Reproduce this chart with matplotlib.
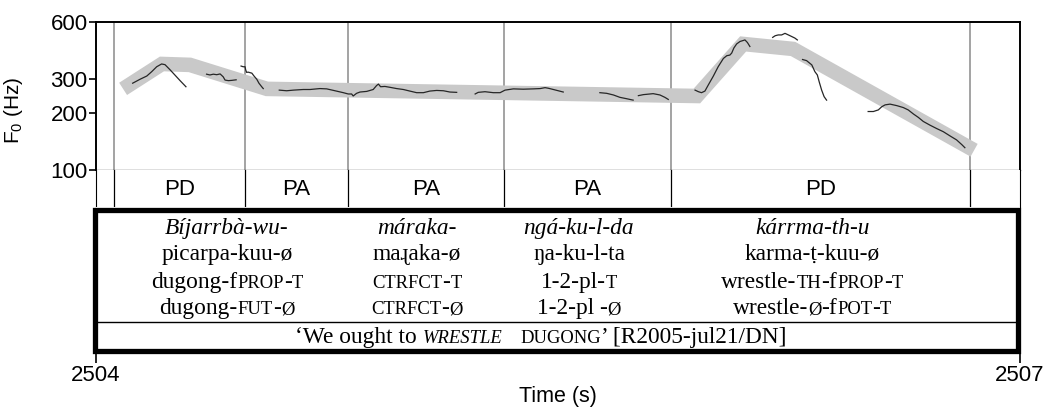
import re
import matplotlib
matplotlib.use('Agg')
import matplotlib.pyplot as plt
from matplotlib import transforms
from matplotlib.patches import Rectangle
from matplotlib.ticker import NullLocator

plt.rcParams['font.family'] = ['Liberation Sans', 'DejaVu Sans']
plt.rcParams['mathtext.fontset'] = 'custom'
plt.rcParams['mathtext.rm'] = 'Liberation Sans'
plt.rcParams['mathtext.default'] = 'regular'

# interval boundaries (s) and tier labels
boundaries = [2504.058, 2504.484, 2504.817, 2505.324, 2505.866, 2506.838]
tier_labels = ['PD', 'PA', 'PA', 'PA', 'PD']

# stylised contour (grey band)
style_t = [2504.088, 2504.214, 2504.305, 2504.555, 2505.951, 2506.101, 2506.263, 2506.851]
style_hz = [267, 361, 357, 267, 245, 460, 433, 127]

# measured F0 pieces
t_a = [2504.119, 2504.143, 2504.165, 2504.181, 2504.197, 2504.213, 2504.224, 2504.240, 2504.256, 2504.273, 2504.292]
hz_a = [286, 300, 312, 329, 349, 361, 358, 337, 316, 295, 274]
t_b = [2504.359, 2504.370, 2504.381, 2504.392, 2504.403, 2504.413, 2504.419, 2504.430, 2504.441, 2504.455]
hz_b = [319, 316, 319, 317, 320, 309, 297, 295, 296, 298]
t_c = [2504.471, 2504.478, 2504.484, 2504.486, 2504.489, 2504.494, 2504.506, 2504.513, 2504.522, 2504.529, 2504.538, 2504.543]
hz_c = [352, 349, 349, 336, 326, 327, 323, 312, 300, 286, 274, 268]
t_d = [2504.595, 2504.619, 2504.641, 2504.673, 2504.695, 2504.727, 2504.749, 2504.776, 2504.803, 2504.819,
       2504.830, 2504.835, 2504.846, 2504.857, 2504.879, 2504.900, 2504.911, 2504.917, 2504.924, 2504.938,
       2504.955, 2504.976, 2504.998, 2505.019, 2505.041, 2505.063, 2505.084, 2505.106, 2505.128, 2505.149, 2505.171]
hz_d = [263, 261, 263, 265, 265, 268, 267, 261, 255, 251,
        251, 245, 253, 257, 259, 265, 278, 283, 274, 275,
        272, 268, 265, 260, 255, 255, 260, 262, 261, 257, 256]
t_e = [2505.231, 2505.241, 2505.263, 2505.290, 2505.312, 2505.328, 2505.355, 2505.387, 2505.420, 2505.442,
       2505.458, 2505.469, 2505.485, 2505.501, 2505.517]
hz_e = [251, 256, 258, 255, 255, 263, 267, 266, 267, 268, 271, 269, 265, 261, 257]
t_f = [2505.636, 2505.658, 2505.680, 2505.701, 2505.723, 2505.744]
hz_f = [255, 253, 248, 241, 237, 233]
t_g = [2505.761, 2505.777, 2505.809, 2505.831, 2505.847, 2505.858]
hz_g = [246, 249, 252, 248, 241, 235]
t_h = [2505.945, 2505.956, 2505.966, 2505.977, 2505.988, 2506.004, 2506.020, 2506.037, 2506.048, 2506.058,
       2506.064, 2506.071, 2506.080, 2506.091, 2506.102, 2506.107, 2506.115, 2506.123]
hz_h = [263, 258, 255, 260, 280, 311, 349, 386, 399, 402, 412, 438, 460, 474, 480, 483, 468, 446]
t_i = [2506.197, 2506.205, 2506.215, 2506.226, 2506.237, 2506.248, 2506.259, 2506.269, 2506.277]
hz_i = [498, 508, 513, 513, 523, 513, 503, 494, 483]
t_j = [2506.294, 2506.307, 2506.324, 2506.334, 2506.342, 2506.348, 2506.356, 2506.364, 2506.372]
hz_j = [381, 376, 357, 329, 316, 291, 263, 243, 233]
t_k = [2506.507, 2506.524, 2506.540, 2506.551, 2506.562, 2506.578, 2506.600, 2506.621, 2506.637, 2506.654,
       2506.670, 2506.686, 2506.708, 2506.730, 2506.751, 2506.773, 2506.794, 2506.811, 2506.821]
hz_k = [203, 203, 207, 215, 220, 222, 218, 213, 207, 197, 189, 180, 172, 165, 159, 151, 144, 136, 131]

# interlinear gloss: {..} small caps, <..> italic small caps
gloss_t = [2504.425, 2505.042, 2505.568, 2506.325]
gloss_words = ['Bíjarrbà-wu-', 'máraka-', 'ngá-ku-l-da', 'kárrma-th-u']
gloss_phon = ['picarpa-kuu-ø', 'maɻaka-ø', 'ŋa-ku-l-ta', 'karma-ṭ-kuu-ø']
gloss_morph = ['dugong-f{PROP}-{T}', '{CTRFCT}-{T}', '1-2-pl-{T}', 'wrestle-{TH}-f{PROP}-{T}']
gloss_func = ['dugong-{FUT}-{Ø}', '{CTRFCT}-{Ø}', '1-2-pl -{Ø}', 'wrestle-{Ø}-f{POT}-{T}']
translation_t = 2505.445
translation = '‘We ought to <WRESTLE>   {DUGONG}’ [R2005-jul21/DN]'

W, H = 1056, 413
fig = plt.figure(figsize=(W / 100, H / 100), dpi=100)


def px_axes(l, t, r, b):
    return fig.add_axes([l / W, 1 - b / H, (r - l) / W, (b - t) / H])


ax = px_axes(96, 22, 1020, 170)
ax_tier = px_axes(96, 170, 1020, 207)
ax_gl = px_axes(96, 207, 1020, 353)
for a in (ax, ax_tier, ax_gl):
    a.set_xlim(2504, 2507)

# --- F0 panel ---
ax.set_yscale('log')
ax.set_ylim(100, 600)
ax.set_yticks([100, 200, 300, 600])
ax.set_yticklabels(['100', '200', '300', '600'])
ax.yaxis.set_minor_locator(NullLocator())
ax.set_xticks([])
ax.tick_params(axis='y', length=5, width=1.2, pad=1, labelsize=16)
for s in ('top', 'left', 'right'):
    ax.spines[s].set_linewidth(1.4)
ax.spines['bottom'].set_linewidth(0.9)
ax.set_ylabel('F$_0$ (Hz)', fontsize=15)
ax.yaxis.set_label_coords(-0.077, 0.405)

for b in boundaries:
    ax.axvline(b, color='#8a8a8a', lw=1.1, zorder=0)

ax.plot(style_t, style_hz, color='#c9c9c9', lw=10.5, solid_joinstyle='miter',
        solid_capstyle='butt', zorder=1)
traces = [(t_a, hz_a), (t_b, hz_b), (t_c, hz_c), (t_d, hz_d), (t_e, hz_e), (t_f, hz_f),
          (t_g, hz_g), (t_h, hz_h), (t_i, hz_i), (t_j, hz_j), (t_k, hz_k)]
for tt, hh in traces:
    ax.plot(tt, hh, color='#262626', lw=0.9, zorder=2)

# --- tier row ---
ax_tier.set_ylim(0, 1)
ax_tier.set_xticks([])
ax_tier.set_yticks([])
ax_tier.spines['top'].set_visible(False)
ax_tier.spines['bottom'].set_visible(False)
for b in boundaries:
    ax_tier.axvline(b, color='black', lw=0.9)
for i, lab in enumerate(tier_labels):
    mid = (boundaries[i] + boundaries[i + 1]) / 2
    ax_tier.text(mid, 0.47, lab, ha='center', va='center', fontsize=16)

# --- gloss box ---
ax_gl.set_ylim(0, 1)
ax_gl.set_yticks([])
for s in ax_gl.spines.values():
    s.set_visible(False)
ax_gl.set_xticks([2504, 2507])
ax_gl.set_xticklabels(['2504', '2507'])
ax_gl.tick_params(axis='x', length=7, width=1.2, pad=1.5, labelsize=16)
ax_gl.set_xlabel('Time (s)', fontsize=15.5, labelpad=0)
ax_gl.add_patch(Rectangle((-0.0016, 0.017), 0.9989, 0.962, transform=ax_gl.transAxes,
                          fill=False, lw=3.8, joinstyle='miter', clip_on=False, zorder=3))
ax_gl.plot([0, 0.997], [0.212, 0.212], transform=ax_gl.transAxes, color='black', lw=1.0)

serif = ['Liberation Serif', 'DejaVu Serif']
base_size = 16.8
renderer = fig.canvas.get_renderer()


def props(style):
    size = base_size * 0.8 if style in ('s', 'si') else base_size
    st = 'italic' if style in ('i', 'si') else 'normal'
    return dict(family=serif, size=size, style=st)


def width(txt, p):
    t1 = fig.text(0, 0, '|' + txt + '|', **p)
    t2 = fig.text(0, 0, '||', **p)
    w = t1.get_window_extent(renderer).width - t2.get_window_extent(renderer).width
    t1.remove()
    t2.remove()
    return w


def draw_line(x, y, markup, default='n'):
    runs = []
    for part in re.split(r'(\{[^}]*\}|<[^>]*>)', markup):
        if not part:
            continue
        if part.startswith('{'):
            runs.append((part[1:-1], 's'))
        elif part.startswith('<'):
            runs.append((part[1:-1], 'si'))
        else:
            runs.append((part, default))
    widths = [width(r, props(s)) for r, s in runs]
    dx = -sum(widths) / 2
    base = ax_gl.get_xaxis_transform()
    for (r, s), w in zip(runs, widths):
        tr = transforms.offset_copy(base, fig=fig, x=dx, y=0, units='dots')
        ax_gl.text(x, y, r, transform=tr, ha='left', va='baseline', **props(s))
        dx += w


for i, x in enumerate(gloss_t):
    draw_line(x, 0.815, gloss_words[i], default='i')
    draw_line(x, 0.637, gloss_phon[i])
    draw_line(x, 0.445, gloss_morph[i])
    draw_line(x, 0.267, gloss_func[i])
draw_line(translation_t, 0.068, translation)

fig.savefig('out.png', dpi=100)
